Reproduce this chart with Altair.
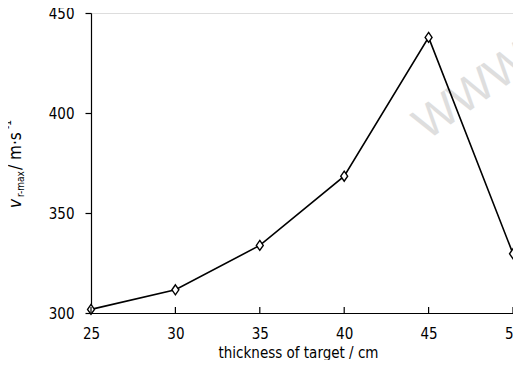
import altair as alt
import pandas as pd

thickness = [25, 30, 35, 40, 45, 50]
v_rmax = [301.8, 311.6, 333.8, 368.4, 437.8, 329.6]
x_ticks = [25, 30, 35, 40, 45, 50]
y_ticks = [300, 350, 400, 450]

FONT = "Liberation Sans Narrow, Arial Narrow, DejaVu Sans Condensed, Liberation Sans, sans-serif"
W, H = 422, 300

df = pd.DataFrame({"t": thickness, "v": v_rmax})
xscale = alt.Scale(domain=[25, 50], nice=False, zero=False)
yscale = alt.Scale(domain=[300, 450], nice=False, zero=False)

base = alt.Chart(df)

line = base.mark_line(color="black", strokeWidth=1.6).encode(
    x=alt.X("t:Q", scale=xscale,
            axis=alt.Axis(values=x_ticks, ticks=False, labelPadding=13, labelFlush=False,
                          labelOverlap=False, title=None, grid=False, domainColor="black",
                          domainWidth=1.2, labelFont=FONT, labelFontSize=15, labelColor="black")),
    y=alt.Y("v:Q", scale=yscale,
            axis=alt.Axis(values=y_ticks, tickSize=6, labelPadding=11, labelFlush=False,
                          labelOverlap=False, title=None, grid=False, domainColor="black",
                          domainWidth=1.2, tickColor="black", tickWidth=1.2,
                          labelFont=FONT, labelFontSize=15, labelColor="black")),
)

pts = base.mark_point(shape="M0,-1.15L0.8,0L0,1.15L-0.8,0Z", size=75, filled=True,
                      fill="white", stroke="black", strokeWidth=1.4, opacity=1).encode(
    x=alt.X("t:Q", scale=xscale), y=alt.Y("v:Q", scale=yscale))

tick_df = pd.DataFrame({"t": x_ticks})
xticks = alt.Chart(tick_df).mark_rule(color="black", strokeWidth=1.2).encode(
    x=alt.X("t:Q", scale=xscale), y=alt.value(H - 6), y2=alt.value(H))

one = alt.Data(values=[{}])

def txt(text, x, y, size, angle=0, style="normal", color="black", font=FONT, align="left"):
    return alt.Chart(one).mark_text(text=text, font=font, fontSize=size, fontStyle=style,
                                    angle=angle, align=align, baseline="alphabetic",
                                    color=color).encode(x=alt.value(x), y=alt.value(y))

xtitle = txt("thickness of target / cm", 207.5, 345, 15, align="center")
yt1 = txt("v", -70, 195, 17, angle=270, style="italic")
yt2 = txt("r-max", -67.5, 184, 10, angle=270)
yt3 = txt("/ m·s", -70, 157, 17, angle=270)
yt4 = txt("-1", -80, 116, 10, angle=270)
wm = txt("WWW", 336, 128, 46, angle=325, color="#dedede", font="Liberation Sans, sans-serif")

chart = alt.layer(wm, line, pts, xticks, xtitle, yt1, yt2, yt3, yt4).properties(
    width=W, height=H,
    autosize=alt.AutoSizeParams(type="none"),
    padding={"left": 83, "top": 5, "right": 0, "bottom": 47},
).configure_view(stroke=None).configure(background="white")

chart.save("out.html", embed_options={"renderer": "svg", "actions": False})
